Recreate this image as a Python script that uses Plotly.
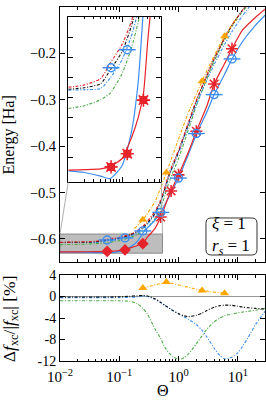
import math
import plotly.graph_objects as go

# ---------------- data ----------------
theta = [0.01, 0.02, 0.04, 0.06, 0.1, 0.15, 0.2, 0.25, 0.3, 0.4, 0.5, 0.7, 1, 1.5, 2, 3, 4, 6, 8, 12, 20, 30]
e_red_solid = [-0.6281, -0.6280, -0.6278, -0.6272, -0.6252, -0.6200, -0.6150, -0.6090, -0.5960, -0.5780, -0.5530,
               -0.5050, -0.4620, -0.4100, -0.3680, -0.3140, -0.2660, -0.2220, -0.1900, -0.1500, -0.1220, -0.1030]
e_blue_solid = [-0.6283, -0.6287, -0.6296, -0.6302, -0.6270, -0.6185, -0.6060, -0.5880, -0.5760, -0.5600, -0.5430,
                -0.5080, -0.4690, -0.4150, -0.3750, -0.3270, -0.2890, -0.2450, -0.2120, -0.1750, -0.1390, -0.1160]
e_black_dd = [-0.6079, -0.6075, -0.6065, -0.6031, -0.5985, -0.5920, -0.5850, -0.5760, -0.5660, -0.5450, -0.5200,
              -0.4610, -0.4120, -0.3480, -0.3030, -0.2480, -0.2120, -0.1670, -0.1390, -0.1070, -0.0750, -0.0550]
e_red_dd = [-0.6074, -0.6068, -0.6052, -0.6014, -0.5967, -0.5908, -0.5830, -0.5730, -0.5620, -0.5410, -0.5160,
            -0.4570, -0.4090, -0.3460, -0.3010, -0.2470, -0.2110, -0.1670, -0.1390, -0.1070, -0.0750, -0.0550]
e_blue_dd = [-0.6081, -0.6080, -0.6077, -0.6051, -0.6005, -0.5945, -0.5880, -0.5790, -0.5690, -0.5470, -0.5220,
             -0.4630, -0.4150, -0.3530, -0.3100, -0.2580, -0.2240, -0.1810, -0.1530, -0.1190, -0.0830, -0.0600]
e_green_dd = [-0.6127, -0.6120, -0.6105, -0.6089, -0.6040, -0.5975, -0.5910, -0.5840, -0.5760, -0.5570, -0.5340,
              -0.4760, -0.4270, -0.3610, -0.3130, -0.2550, -0.2170, -0.1710, -0.1420, -0.1100, -0.0770, -0.0570]

theta_orange_line = [0.18, 0.25, 0.4, 0.625, 1, 1.5, 2.5, 4, 6, 10]
e_orange_line = [-0.578, -0.559, -0.52, -0.457, -0.385, -0.325, -0.26, -0.205, -0.163, -0.12]

theta_orange = [0.25, 0.625, 2.5, 6]
e_orange = [-0.559, -0.457, -0.26, -0.163]
d_orange = [1.6, 2.7, 1.1, 0.6]

theta_red_star = [0.5, 0.75, 1, 2, 4, 8]
e_red_star = [-0.553, -0.497, -0.462, -0.368, -0.266, -0.190]

theta_blue_circ = [0.0625, 0.125, 0.25, 0.5, 1, 2, 4, 8]
e_blue_circ = [-0.6025, -0.598, -0.583, -0.543, -0.469, -0.373, -0.289, -0.212]

theta_red_diam = [0.0625, 0.125, 0.25]
e_red_diam = [-0.6273, -0.6240, -0.6106]

theta_low = [0.01, 0.05, 0.1, 0.15, 0.2, 0.25, 0.3, 0.4, 0.5, 0.6, 0.8, 1, 1.25, 1.5, 2, 2.5, 3, 4, 5, 6, 7, 8,
             10, 12, 15, 20, 25, 30]
d_black = [-0.1, -0.1, -0.05, 0.05, 0.15, 0.2, 0.1, -0.4, -1.1, -1.7, -2.6, -3.2, -3.6, -3.75, -3.5, -3.1, -2.6,
           -2.0, -1.7, -1.6, -1.6, -1.65, -1.8, -1.95, -2.1, -2.2, -2.3, -2.3]
d_green = [-0.8, -0.8, -0.8, -0.9, -1.3, -2.2, -3.3, -6.0, -7.8, -9.6, -11.2, -11.7, -11.4, -10.6, -8.8, -7.3,
           -6.1, -4.7, -4.0, -3.6, -3.4, -3.25, -3.05, -2.9, -2.75, -2.55, -2.35, -2.2]
d_blue = [-0.2, -0.2, -0.2, -0.15, -0.1, 0.1, 0.0, -0.5, -1.1, -1.7, -2.6, -3.2, -3.8, -4.3, -5.2, -6.3, -7.5,
          -9.6, -11.0, -11.6, -11.5, -11.3, -10.5, -9.3, -7.6, -5.2, -3.7, -2.5]

x_tick_vals = [0.01, 0.1, 1, 10]
x_tick_text = ["10<sup>−2</sup>", "10<sup>−1</sup>", "10<sup>0</sup>", "10<sup>1</sup>"]
y_main_ticks = [-0.6, -0.5, -0.4, -0.3, -0.2]
y_main_text = ["−0.6", "−0.5", "−0.4", "−0.3", "−0.2"]
y_low_ticks = [-12, -8, -4, 0, 4]
y_low_text = ["-12", "-8", "-4", "0", "4"]
inset_y_ticks = [-0.625, -0.62, -0.615, -0.61, -0.605, -0.6, -0.595]

# ---------------- style ----------------
RED = "#e6232b"
BLUE = "#3a8df0"
GREEN = "#4dab48"
ORANGE = "#ffa500"
BLACK = "#111111"
DD = "3px,1.6px,1px,1.6px"
FONT = "Liberation Serif, DejaVu Serif, serif"

XR = [-2, 1.46]
MAIN_DOM = [0.2797, 1.0]
LOW_DOM = [0.0, 0.2429]
INS_X = [0.0405, 0.494]
INS_Y = [0.5065, 0.9726]
INS_XR = [-2, -0.27]
INS_YR = [-0.631, -0.58975]
MAIN_YR = [-0.65, -0.1]

minor_vals = [k * 10 ** d for d in range(-2, 2) for k in range(2, 10)]

fig = go.Figure()


def add_line(x, y, color, xa, ya, dash="solid", width=1.1):
    fig.add_trace(go.Scatter(x=x, y=y, mode="lines", xaxis=xa, yaxis=ya,
                             line=dict(color=color, width=width, dash=dash, shape="spline", smoothing=0.6),
                             showlegend=False, hoverinfo="skip"))


def add_markers(x, y, xa, ya, symbol, size, color, lw=1.3):
    fig.add_trace(go.Scatter(x=x, y=y, mode="markers", xaxis=xa, yaxis=ya,
                             marker=dict(symbol=symbol, size=size, color=color,
                                         line=dict(color=color, width=lw)),
                             showlegend=False, hoverinfo="skip"))


# main panel + inset lines
for xa, ya in (("x", "y"), ("x3", "y3")):
    add_line(theta, e_green_dd, GREEN, xa, ya, DD)
    add_line(theta, e_blue_dd, BLUE, xa, ya, DD)
    add_line(theta, e_black_dd, BLACK, xa, ya, DD)
    add_line(theta, e_red_dd, RED, xa, ya, DD)
    add_line(theta, e_blue_solid, BLUE, xa, ya, "solid", 1.2)
    add_line(theta, e_red_solid, RED, xa, ya, "solid", 1.2)

add_line(theta_orange_line, e_orange_line, ORANGE, "x", "y", DD)
add_markers(theta_orange, e_orange, "x", "y", "triangle-up", 8, ORANGE, 0)
add_markers(theta_red_star, e_red_star, "x", "y", "asterisk-open", 10, RED, 1.6)
add_markers(theta_blue_circ, e_blue_circ, "x", "y", "circle-open", 8, BLUE, 1.4)
add_markers(theta_blue_circ, e_blue_circ, "x", "y", "line-ew-open", 12, BLUE, 1.4)
add_markers(theta_red_diam, e_red_diam, "x", "y", "diamond", 9, RED, 0)

# inset markers
add_markers(theta_red_diam, e_red_diam, "x3", "y3", "square", 8, RED, 0)
add_markers(theta_red_diam, e_red_diam, "x3", "y3", "asterisk-open", 11, RED, 1.6)
add_markers(theta_blue_circ, e_blue_circ, "x3", "y3", "circle-open", 8, BLUE, 1.4)
add_markers(theta_blue_circ, e_blue_circ, "x3", "y3", "line-ew-open", 12, BLUE, 1.4)

# lower panel
add_line(theta_low, d_green, GREEN, "x2", "y2", DD)
add_line(theta_low, d_blue, BLUE, "x2", "y2", DD)
add_line(theta_low, d_black, BLACK, "x2", "y2", DD)
fig.add_trace(go.Scatter(x=theta_orange, y=d_orange, mode="lines+markers", xaxis="x2", yaxis="y2",
                         line=dict(color=ORANGE, width=1.1, dash=DD),
                         marker=dict(symbol="triangle-up", size=8, color=ORANGE),
                         showlegend=False, hoverinfo="skip"))

axis_common = dict(showline=True, linecolor="black", linewidth=1, mirror="allticks", ticks="inside",
                   ticklen=5, tickwidth=0.9, tickcolor="black", showgrid=False, zeroline=False)
minor_x = dict(tickvals=minor_vals, ticks="inside", ticklen=2.5, tickwidth=0.8, tickcolor="black", showgrid=False)


def tf(size):
    return dict(family=FONT, size=size, color="black")


fig.update_layout(
    width=266, height=400, margin=dict(l=60, r=1, t=7, b=39),
    paper_bgcolor="white", plot_bgcolor="white",
    font=dict(family=FONT, size=13, color="black"),
    xaxis=dict(type="log", range=XR, domain=[0, 1], anchor="y", tickvals=x_tick_vals,
               showticklabels=False, minor=minor_x, **axis_common),
    yaxis=dict(range=MAIN_YR, domain=MAIN_DOM, anchor="x", tickvals=y_main_ticks, ticktext=y_main_text,
               tickfont=tf(14.5), **axis_common),
    xaxis2=dict(type="log", range=XR, domain=[0, 1], anchor="y2", tickvals=x_tick_vals,
                ticktext=x_tick_text, minor=minor_x, ticklabelstandoff=2, tickfont=tf(15), **axis_common),
    yaxis2=dict(range=[-12, 4], domain=LOW_DOM, anchor="x2", tickvals=y_low_ticks, ticktext=y_low_text,
                tickfont=tf(14), **axis_common),
    xaxis3=dict(type="log", range=INS_XR, domain=INS_X, anchor="y3", tickvals=[0.01, 0.1],
                showticklabels=False, minor=minor_x, **axis_common),
    yaxis3=dict(range=INS_YR, domain=INS_Y, anchor="x3", tickvals=inset_y_ticks, showticklabels=False,
                **axis_common),
)


def main_to_paper(xv, yv):
    px = (math.log10(xv) - XR[0]) / (XR[1] - XR[0])
    py = MAIN_DOM[0] + (MAIN_DOM[1] - MAIN_DOM[0]) * (yv - MAIN_YR[0]) / (MAIN_YR[1] - MAIN_YR[0])
    return px, py


rx0, rx1 = 10 ** INS_XR[0], 10 ** INS_XR[1]
fig.add_shape(type="rect", xref="x", yref="y", x0=rx0, x1=rx1, y0=INS_YR[0], y1=INS_YR[1],
              fillcolor="#bdbdbd", line=dict(color="#8a8a8a", width=1), layer="below")
tl = main_to_paper(rx0, INS_YR[1])
tr = main_to_paper(rx1, INS_YR[1])
fig.add_shape(type="line", xref="paper", yref="paper", x0=tl[0], y0=tl[1], x1=INS_X[0], y1=INS_Y[0],
              line=dict(color="#9a9a9a", width=0.8))
fig.add_shape(type="line", xref="paper", yref="paper", x0=tr[0], y0=tr[1], x1=INS_X[1], y1=INS_Y[0],
              line=dict(color="#9a9a9a", width=0.8))
fig.add_shape(type="line", xref="x2", yref="y2", x0=10 ** XR[0], x1=10 ** XR[1], y0=0, y1=0,
              line=dict(color="#999999", width=1), layer="below")

# rounded annotation box
bx0, bx1, by0, by1 = 0.712, 0.961, 0.2994, 0.404
rx, ry = 0.026, 0.015
path = (f"M {bx0+rx},{by0} L {bx1-rx},{by0} Q {bx1},{by0} {bx1},{by0+ry} "
        f"L {bx1},{by1-ry} Q {bx1},{by1} {bx1-rx},{by1} L {bx0+rx},{by1} Q {bx0},{by1} {bx0},{by1-ry} "
        f"L {bx0},{by0+ry} Q {bx0},{by0} {bx0+rx},{by0} Z")
fig.add_shape(type="path", xref="paper", yref="paper", path=path, fillcolor="white",
              line=dict(color="#333333", width=1))
fig.add_annotation(xref="paper", yref="paper", x=(bx0 + bx1) / 2, y=(by0 + by1) / 2, showarrow=False,
                   xanchor="center", yanchor="middle",
                   text="<i>ξ</i> = 1<br><i>r<sub>s</sub></i> = 1", align="left", font=tf(17))

# axis titles
fig.add_annotation(xref="paper", yref="paper", x=-0.244, y=(MAIN_DOM[0] + MAIN_DOM[1]) / 2,
                   xanchor="center", yanchor="middle",
                   text="Energy [Ha]", textangle=-90, showarrow=False, font=tf(16))
fig.add_annotation(xref="paper", yref="paper", x=-0.244, y=0.121, xanchor="center", yanchor="middle",
                   text="Δ<i>f</i><sub>xc</sub>/|<i>f</i><sub>xc</sub>| [%]", textangle=-90, showarrow=False,
                   font=tf(17.5))
fig.add_annotation(xref="paper", yref="paper", x=0.5, y=-0.082, xanchor="center", yanchor="middle",
                   text="Θ", showarrow=False, font=tf(16))

fig.write_html("out.html", config={"displayModeBar": False},
               post_script="document.body.style.margin='0px';")
